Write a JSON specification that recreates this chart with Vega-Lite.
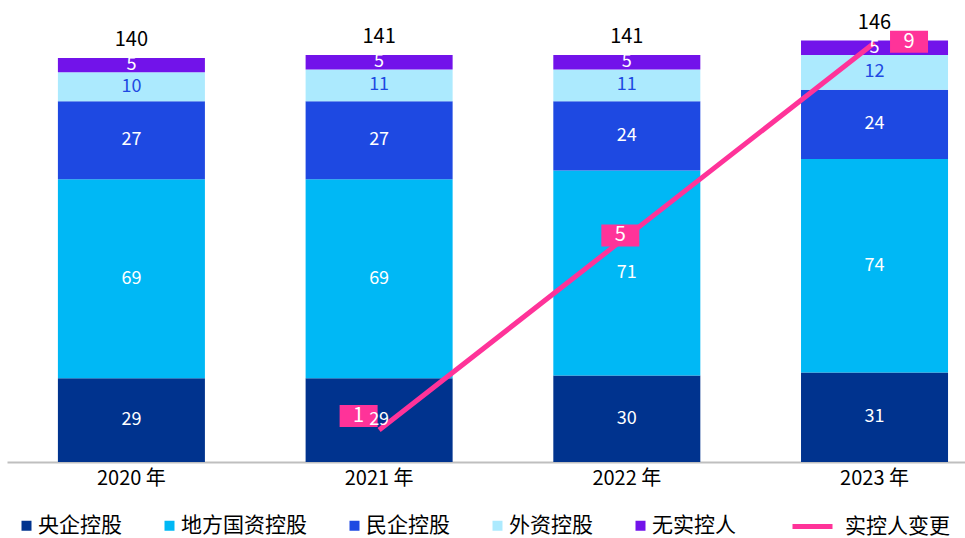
{
  "$schema": "https://vega.github.io/schema/vega-lite/v6.json",
  "width": 958,
  "height": 454,
  "autosize": {"type": "none"},
  "padding": {"left": 7, "top": 8, "right": 0, "bottom": 76},
  "background": "white",
  "config": {
    "view": {"stroke": null},
    "font": "Noto Sans CJK SC",
    "text": {"font": "Noto Sans CJK SC"},
    "legend": {"labelFont": "Noto Sans CJK SC"},
    "axis": {"labelFont": "Noto Sans CJK SC"}
  },
  "datasets": {
    "bars": [
      {"year": "2020 年", "type": "央企控股", "value": 29},
      {"year": "2020 年", "type": "地方国资控股", "value": 69},
      {"year": "2020 年", "type": "民企控股", "value": 27},
      {"year": "2020 年", "type": "外资控股", "value": 10},
      {"year": "2020 年", "type": "无实控人", "value": 5},
      {"year": "2021 年", "type": "央企控股", "value": 29},
      {"year": "2021 年", "type": "地方国资控股", "value": 69},
      {"year": "2021 年", "type": "民企控股", "value": 27},
      {"year": "2021 年", "type": "外资控股", "value": 11},
      {"year": "2021 年", "type": "无实控人", "value": 5},
      {"year": "2022 年", "type": "央企控股", "value": 30},
      {"year": "2022 年", "type": "地方国资控股", "value": 71},
      {"year": "2022 年", "type": "民企控股", "value": 24},
      {"year": "2022 年", "type": "外资控股", "value": 11},
      {"year": "2022 年", "type": "无实控人", "value": 5},
      {"year": "2023 年", "type": "央企控股", "value": 31},
      {"year": "2023 年", "type": "地方国资控股", "value": 74},
      {"year": "2023 年", "type": "民企控股", "value": 24},
      {"year": "2023 年", "type": "外资控股", "value": 12},
      {"year": "2023 年", "type": "无实控人", "value": 5}
    ],
    "line": [
      {"year": "2021 年", "n": 1},
      {"year": "2022 年", "n": 5},
      {"year": "2023 年", "n": 9}
    ]
  },
  "encoding": {
    "x": {
      "field": "year",
      "type": "nominal",
      "scale": {"paddingInner": 0.4065, "paddingOuter": 0.137, "align": 0.75},
      "axis": {
        "title": null,
        "labelAngle": 0,
        "labelFontSize": 20,
        "labelColor": "black",
        "ticks": false,
        "domainColor": "#BFBFBF",
        "domainWidth": 2,
        "labelPadding": 6,
        "grid": false
      }
    }
  },
  "layer": [
    {
      "data": {"name": "bars"},
      "transform": [
        {"calculate": "indexof(['央企控股','地方国资控股','民企控股','外资控股','无实控人'], datum.type)", "as": "ord"}
      ],
      "mark": {"type": "bar"},
      "encoding": {
        "y": {"field": "value", "type": "quantitative", "stack": "zero", "scale": {"domain": [0, 157.3], "nice": false}, "axis": null},
        "color": {
          "field": "type",
          "type": "nominal",
          "scale": {
            "domain": ["央企控股", "地方国资控股", "民企控股", "外资控股", "无实控人"],
            "range": ["#00338E", "#00B8F5", "#1E49E2", "#ACEAFE", "#7213EA"]
          },
          "legend": {
            "orient": "none",
            "legendX": 9,
            "legendY": 507,
            "direction": "horizontal",
            "title": null,
            "symbolType": "square",
            "symbolSize": 100,
            "symbolStrokeWidth": 0,
            "labelFontSize": 21,
            "labelOffset": 1,
            "labelColor": "black",
            "columnPadding": 37,
            "padding": 0
          }
        },
        "order": {"field": "ord"}
      }
    },
    {
      "data": {"name": "line"},
      "mark": {"type": "line", "strokeWidth": 5, "strokeCap": "butt"},
      "encoding": {
        "y": {"field": "n", "type": "quantitative", "scale": {"domain": [0.339, 9.719], "nice": false, "zero": false}, "axis": null},
        "stroke": {
          "datum": "实控人变更",
          "type": "nominal",
          "scale": {"range": ["#FF3399"]},
          "legend": {
            "orient": "none",
            "legendX": 783,
            "legendY": 496,
            "title": null,
            "symbolType": "stroke",
            "symbolSize": 1600,
            "symbolStrokeWidth": 5,
            "labelFontSize": 21,
            "labelOffset": 10,
            "labelColor": "black",
            "padding": 0
          }
        }
      }
    },
    {
      "data": {"name": "line"},
      "transform": [{"filter": "datum.n === 1"}],
      "encoding": {
        "y": {"field": "n", "type": "quantitative", "scale": {"domain": [0.339, 9.719], "nice": false, "zero": false}, "axis": null}
      },
      "layer": [
        {"mark": {"type": "point", "shape": "M-1,-0.58H1V0.58H-1Z", "size": 1444, "filled": true, "opacity": 1, "color": "#FF3399", "strokeWidth": 0, "xOffset": -20.5, "yOffset": -14}},
        {"mark": {"type": "text", "fontSize": 20, "color": "white", "baseline": "middle", "xOffset": -20.5, "yOffset": -14}, "encoding": {"text": {"field": "n", "type": "quantitative"}}}
      ]
    },
    {
      "data": {"name": "line"},
      "transform": [{"filter": "datum.n === 5"}],
      "encoding": {
        "y": {"field": "n", "type": "quantitative", "scale": {"domain": [0.339, 9.719], "nice": false, "zero": false}, "axis": null}
      },
      "layer": [
        {"mark": {"type": "point", "shape": "M-1,-0.58H1V0.58H-1Z", "size": 1444, "filled": true, "opacity": 1, "color": "#FF3399", "strokeWidth": 0, "xOffset": -6.5, "yOffset": -1}},
        {"mark": {"type": "text", "fontSize": 20, "color": "white", "baseline": "middle", "xOffset": -6.5, "yOffset": -1}, "encoding": {"text": {"field": "n", "type": "quantitative"}}}
      ]
    },
    {
      "data": {"name": "line"},
      "transform": [{"filter": "datum.n === 9"}],
      "encoding": {
        "y": {"field": "n", "type": "quantitative", "scale": {"domain": [0.339, 9.719], "nice": false, "zero": false}, "axis": null}
      },
      "layer": [
        {"mark": {"type": "point", "shape": "M-1,-0.58H1V0.58H-1Z", "size": 1444, "filled": true, "opacity": 1, "color": "#FF3399", "strokeWidth": 0, "xOffset": 34.5, "yOffset": -1}},
        {"mark": {"type": "text", "fontSize": 20, "color": "white", "baseline": "middle", "xOffset": 34.5, "yOffset": -1}, "encoding": {"text": {"field": "n", "type": "quantitative"}}}
      ]
    },
    {
      "data": {"name": "bars"},
      "transform": [
        {"calculate": "indexof(['央企控股','地方国资控股','民企控股','外资控股','无实控人'], datum.type)", "as": "ord"},
        {"window": [{"op": "sum", "field": "value", "as": "cum"}], "groupby": ["year"], "sort": [{"field": "ord"}]},
        {"calculate": "datum.cum - datum.value / 2", "as": "mid"}
      ],
      "mark": {"type": "text", "fontSize": 18, "baseline": "middle"},
      "encoding": {
        "y": {"field": "mid", "type": "quantitative", "scale": {"domain": [0, 157.3], "nice": false}, "axis": null},
        "text": {"field": "value", "type": "quantitative"},
        "color": {"condition": {"test": "datum.type === '外资控股'", "value": "#1E49E2"}, "value": "white"}
      }
    },
    {
      "data": {"name": "bars"},
      "transform": [
        {"aggregate": [{"op": "sum", "field": "value", "as": "total"}], "groupby": ["year"]}
      ],
      "mark": {"type": "text", "fontSize": 20, "baseline": "middle", "dy": -18, "color": "black"},
      "encoding": {
        "y": {"field": "total", "type": "quantitative", "scale": {"domain": [0, 157.3], "nice": false}, "axis": null},
        "text": {"field": "total", "type": "quantitative"}
      }
    }
  ],
  "resolve": {"scale": {"y": "independent"}}
}
